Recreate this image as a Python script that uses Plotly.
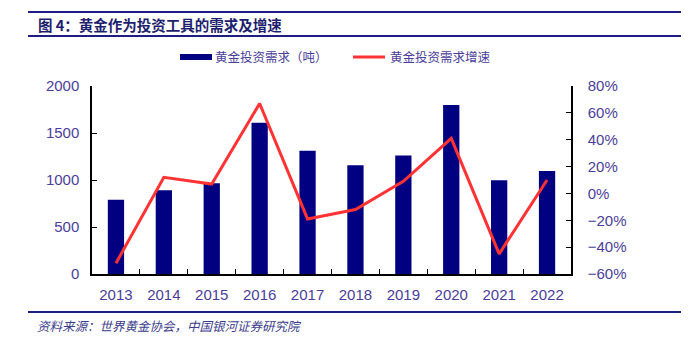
import plotly.graph_objects as go

years = ["2013", "2014", "2015", "2016", "2017", "2018", "2019", "2020", "2021", "2022"]
demand = [790, 890, 965, 1610, 1312, 1158, 1260, 1797, 997, 1097]
growth = [-52, 12, 7, 67, -19, -12, 9, 41, -45, 10]

bar_name = "黄金投资需求（吨）"
line_name = "黄金投资需求增速"
title_text = "图 4：黄金作为投资工具的需求及增速"
source_text = "资料来源：世界黄金协会，中国银河证券研究院"

tick_color = "#4B3E9A"
navy = "#000080"
red = "#FF3333"
cjk = "Noto Sans CJK SC"
latin = "Liberation Sans, Arial"

fig = go.Figure()
fig.add_trace(go.Bar(x=years, y=demand, name=bar_name, marker_color=navy,
                     marker_line_width=0, width=0.34, yaxis="y"))
fig.add_trace(go.Scatter(x=years, y=growth, name=line_name, mode="lines",
                         line=dict(color=red, width=3), yaxis="y2"))

# plot area in pixels: x 92..571, y 86..274
L, R, T, B = 92, 571, 86, 274
W, H = R - L, B - T
def px(p): return (p - L) / W
def py(q): return (B - q) / H

axis_common = dict(showline=True, linecolor="black", linewidth=1.5,
                   ticks="inside", ticklen=5, tickcolor="black",
                   tickfont=dict(family=latin, size=15, color=tick_color),
                   showgrid=False, zeroline=False)

fig.update_layout(
    width=694, height=344,
    margin=dict(l=L, r=694 - R, t=T, b=344 - B),
    paper_bgcolor="white", plot_bgcolor="white",
    showlegend=False,
    xaxis=dict(type="category", tickson="boundaries", ticklabelstandoff=6, **axis_common),
    yaxis=dict(range=[0, 2000], dtick=500, ticklabelstandoff=8, **axis_common),
    yaxis2=dict(range=[-60, 80], dtick=20, ticksuffix="%", overlaying="y", side="right",
                ticklabelstandoff=12, **axis_common),
)

rule_color = "#1E1E82"
for yy in (12, 36, 312):
    fig.add_shape(type="line", xref="paper", yref="paper", x0=px(28), x1=px(681),
                  y0=py(yy), y1=py(yy), line=dict(color=rule_color, width=2))

# manual legend
fig.add_shape(type="rect", xref="paper", yref="paper", x0=px(180), x1=px(212),
              y0=py(54), y1=py(60), fillcolor=navy, line=dict(width=0))
fig.add_shape(type="line", xref="paper", yref="paper", x0=px(353), x1=px(385),
              y0=py(57), y1=py(57), line=dict(color=red, width=3))
fig.add_annotation(xref="paper", yref="paper", x=px(214), y=py(57), xanchor="left", yanchor="middle",
                   text=bar_name, showarrow=False, borderpad=0,
                   font=dict(family=cjk, size=12.5, color=tick_color))
fig.add_annotation(xref="paper", yref="paper", x=px(389), y=py(57), xanchor="left", yanchor="middle",
                   text=line_name, showarrow=False, borderpad=0,
                   font=dict(family=cjk, size=12.5, color=tick_color))

fig.add_annotation(xref="paper", yref="paper", x=px(37), y=py(24), xanchor="left", yanchor="middle",
                   text="<b>" + title_text + "</b>", showarrow=False, borderpad=0,
                   font=dict(family=cjk, size=14.5, color="#1E1E6E"))
fig.add_annotation(xref="paper", yref="paper", x=px(36), y=py(325), xanchor="left", yanchor="middle",
                   text="<i>" + source_text + "</i>", showarrow=False, borderpad=0,
                   font=dict(family=cjk, size=12.5, color="#3C3C8C"))

fig.write_html("out.html")
